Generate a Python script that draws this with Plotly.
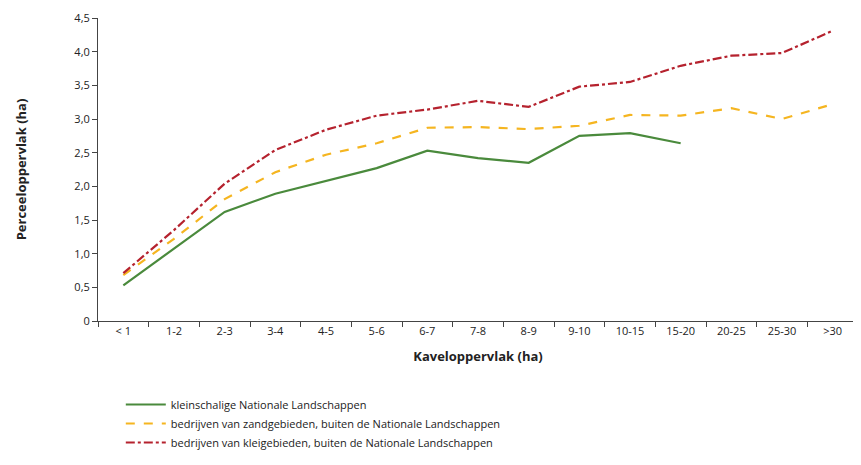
import plotly.graph_objects as go

categories = ["< 1", "1-2", "2-3", "3-4", "4-5", "5-6", "6-7", "7-8", "8-9",
              "9-10", "10-15", "15-20", "20-25", "25-30", ">30"]
klein = [0.53, 1.08, 1.62, 1.89, 2.08, 2.27, 2.53, 2.42, 2.35, 2.75, 2.79, 2.64]
zand = [0.68, 1.22, 1.81, 2.21, 2.47, 2.64, 2.87, 2.88, 2.85, 2.90, 3.06, 3.05, 3.16, 3.00, 3.22]
klei = [0.71, 1.35, 2.04, 2.54, 2.84, 3.05, 3.14, 3.27, 3.18, 3.48, 3.55, 3.79, 3.94, 3.98, 4.31]
y_ticks = [0, 0.5, 1, 1.5, 2, 2.5, 3, 3.5, 4, 4.5]
y_labels = ["0", "0,5", "1,0", "1,5", "2,0", "2,5", "3,0", "3,5", "4,0", "4,5"]

fig = go.Figure()
fig.add_trace(go.Scatter(x=categories[:len(klein)], y=klein, mode="lines",
                         name="kleinschalige Nationale Landschappen",
                         line=dict(color="#4a8a3c", width=2.2)))
fig.add_trace(go.Scatter(x=categories, y=zand, mode="lines",
                         name="bedrijven van zandgebieden, buiten de Nationale Landschappen",
                         line=dict(color="#f5b520", width=2.2, dash="dash")))
fig.add_trace(go.Scatter(x=categories, y=klei, mode="lines",
                         name="bedrijven van kleigebieden, buiten de Nationale Landschappen",
                         line=dict(color="#b5222e", width=2.2, dash="dashdot")))

fig.update_layout(
    width=850, height=449,
    margin=dict(l=90, r=0, t=10, b=136),
    plot_bgcolor="white", paper_bgcolor="white",
    font=dict(family="Open Sans", size=11, color="#222"),
    legend=dict(x=0.03, y=0, yref="container", xanchor="left", yanchor="bottom",
                font=dict(size=11), tracegroupgap=0, itemwidth=40,
                borderwidth=0),
)
fig.update_xaxes(
    type="category", range=[-0.5, 14.5], tickson="boundaries", automargin=False,
    ticks="outside", ticklen=5, tickcolor="#444", showline=True, linecolor="#444",
    showgrid=False,
    title=dict(text="<b>Kaveloppervlak (ha)</b>", standoff=14),
)
fig.update_yaxes(
    range=[0, 4.5], tickvals=y_ticks, ticktext=y_labels, automargin=False,
    ticks="outside", ticklen=5, tickcolor="#444", showline=True, linecolor="#444",
    showgrid=False, zeroline=False,
    title=dict(text="<b>Perceeloppervlak (ha)</b>", standoff=44),
)
fig.write_html("out.html")
